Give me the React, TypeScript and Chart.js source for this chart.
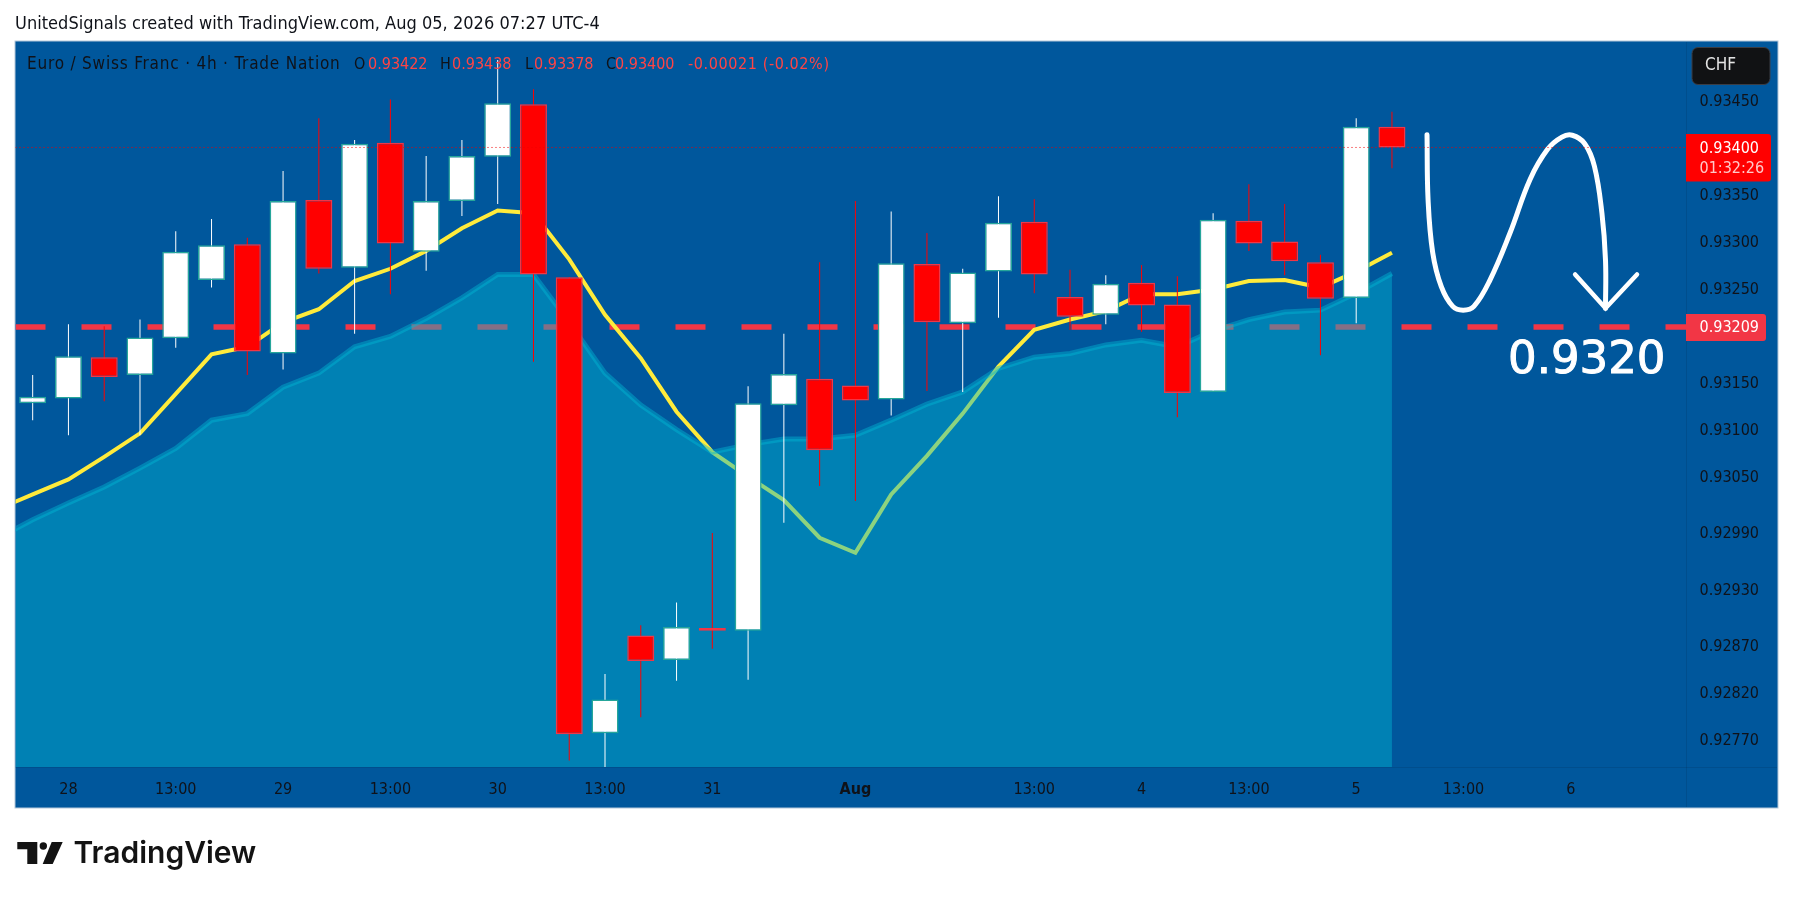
import React, { useEffect, useRef } from "react";
import { Chart, registerables } from "chart.js";

Chart.register(...registerables);

const opens = [0.93128,0.93133,0.93177,0.93158,0.93197,0.93259,0.93297,0.93181,0.93344,0.93272,0.93405,0.93289,0.93343,0.93390,0.93446,0.93262,0.92777,0.92881,0.92855,0.92889,0.92886,0.93126,0.93154,0.93147,0.93132,0.93276,0.93213,0.93268,0.93321,0.93241,0.93222,0.93256,0.93233,0.93140,0.93322,0.93300,0.93278,0.93240,0.93422];
const highs = [0.93158,0.93212,0.93210,0.93217,0.93311,0.93324,0.93304,0.93375,0.93431,0.93408,0.93451,0.93391,0.93408,0.93493,0.93462,0.93262,0.92840,0.92892,0.92916,0.92990,0.93146,0.93202,0.93278,0.93343,0.93332,0.93309,0.93271,0.93348,0.93345,0.93270,0.93264,0.93275,0.93263,0.93330,0.93361,0.93340,0.93286,0.93431,0.93438];
const lows = [0.93110,0.93094,0.93130,0.93094,0.93187,0.93251,0.93158,0.93164,0.93266,0.93202,0.93244,0.93269,0.93327,0.93340,0.93172,0.92748,0.92740,0.92794,0.92833,0.92867,0.92834,0.93001,0.93040,0.93024,0.93115,0.93141,0.93140,0.93219,0.93245,0.93206,0.93212,0.93204,0.93113,0.93140,0.93290,0.93264,0.93179,0.93213,0.93378];
const closes = [0.93135,0.93178,0.93156,0.93198,0.93289,0.93296,0.93183,0.93343,0.93271,0.93404,0.93298,0.93343,0.93391,0.93447,0.93265,0.92776,0.92813,0.92854,0.92890,0.92886,0.93128,0.93159,0.93078,0.93131,0.93277,0.93214,0.93267,0.93320,0.93265,0.93220,0.93255,0.93232,0.93139,0.93323,0.93298,0.93279,0.93239,0.93422,0.93400];

// First value sits one bar before the first candle (off the left edge).
const emaFast = [0.93015,0.93031,0.93047,0.93071,0.93096,0.93138,0.93180,0.93188,0.93214,0.93228,0.93258,0.93271,0.93290,0.93314,0.93333,0.93330,0.93281,0.93222,0.93176,0.93119,0.93076,0.93050,0.93025,0.92985,0.92969,0.93031,0.93072,0.93117,0.93167,0.93206,0.93217,0.93226,0.93244,0.93244,0.93249,0.93258,0.93259,0.93251,0.93268,0.93288];
const emaSlow = [0.92984,0.93004,0.93022,0.93039,0.93059,0.93080,0.93110,0.93117,0.93145,0.93160,0.93188,0.93199,0.93218,0.93240,0.93265,0.93265,0.93214,0.93160,0.93126,0.93100,0.93076,0.93084,0.93090,0.93090,0.93094,0.93110,0.93127,0.93140,0.93165,0.93177,0.93181,0.93190,0.93195,0.93188,0.93205,0.93217,0.93225,0.93227,0.93245,0.93266];

const priceTicks = [0.9345,0.934,0.9335,0.933,0.9325,0.932,0.9315,0.931,0.9305,0.9299,0.9293,0.9287,0.9282,0.9277];
const timeTickBars = [1,4,7,10,13,16,19,23,28,31,34,37,40,43];
const timeTickLabels = ["28","13:00","29","13:00","30","13:00","31","Aug","13:00","4","13:00","5","13:00","6"];

const levelPrice = 0.93209;
const lastPrice = 0.934;

const sketchBars = [38.98,39.01,39.14,39.38,39.70,39.99,40.29,40.74,41.30,41.86,42.35,42.75,43.04,43.39,43.66,43.87,43.97,43.97];
const sketchPrices = [0.934135,0.93344,0.93288,0.93252,0.93231,0.93227,0.93231,0.93259,0.93309,0.93366,0.93398,0.93411,0.93413,0.93404,0.93380,0.93330,0.93280,0.93229];
const headBars = [43.12,43.97,44.85];
const headPrices = [0.93265,0.93229,0.93265];

const xMin = -0.48;
const xMax = 46.22;
const yMin = 0.927412;
const yMax = 0.935132;

const FONT = '"DejaVu Sans Condensed", "DejaVu Sans"';
const INK = "#0f1219";
const BLUE = "#00579c";
const RED = "#ff0000";
const BAR_RED_EDGE = "#f23645";
const BAR_WHITE_EDGE = "#26a69a";
const VALUE_RED = "#ff4444";

const isUp = (i: number) => closes[i] >= opens[i];

function roundRect(c: CanvasRenderingContext2D, x: number, y: number, w: number, h: number, r: number | number[]) {
  c.beginPath();
  c.roundRect(x, y, w, h, r);
}

const frame = {
  id: "frame",
  beforeDraw(chart: any) {
    const c = chart.ctx as CanvasRenderingContext2D;
    const { left, right, bottom } = chart.chartArea;
    c.save();
    c.fillStyle = "#ffffff";
    c.fillRect(0, 0, chart.width, chart.height);
    c.fillStyle = BLUE;
    c.fillRect(15, 41, 1763, 767);
    c.strokeStyle = "#b4c8da";
    c.lineWidth = 1;
    c.strokeRect(15, 41, 1763, 767);
    c.strokeStyle = "rgba(0,40,80,0.18)";
    c.beginPath();
    c.moveTo(right + 0.5, 42);
    c.lineTo(right + 0.5, 807);
    c.moveTo(left, bottom + 0.5);
    c.lineTo(1777, bottom + 0.5);
    c.stroke();
    c.restore();
  },
  afterDraw(chart: any) {
    const c = chart.ctx as CanvasRenderingContext2D;
    const { right } = chart.chartArea;
    const y = chart.scales.y;
    c.save();
    c.textBaseline = "middle";
    c.textAlign = "left";

    c.fillStyle = INK;
    c.font = `18px ${FONT}`;
    (c as any).letterSpacing = "0.03px";
    c.fillText("UnitedSignals created with TradingView.com, Aug 05, 2026 07:27 UTC-4", 15, 24);

    c.font = `17px ${FONT}`;
    (c as any).letterSpacing = "0.8px";
    c.fillStyle = INK;
    c.fillText("Euro / Swiss Franc · 4h · Trade Nation", 27, 65);
    (c as any).letterSpacing = "0px";
    c.font = `16px ${FONT}`;
    const ohlc: [string, number, string, number][] = [
      ["O", 354, "0.93422", 368],
      ["H", 440, "0.93438", 452],
      ["L", 525, "0.93378", 534],
      ["C", 606, "0.93400", 615],
    ];
    ohlc.forEach(([k, kx, v, vx]) => {
      c.fillStyle = INK;
      c.fillText(k, kx, 65);
      c.fillStyle = VALUE_RED;
      c.fillText(v, vx, 65);
    });
    c.fillStyle = VALUE_RED;
    (c as any).letterSpacing = "0.6px";
    c.fillText("-0.00021 (-0.02%)", 688, 65);
    (c as any).letterSpacing = "0px";

    // CHF currency chip
    c.fillStyle = "#111214";
    c.strokeStyle = "#3a3d45";
    roundRect(c, 1692, 47.5, 78, 37, 6);
    c.fill();
    c.stroke();
    c.fillStyle = "#e4e4e4";
    c.font = `17px ${FONT}`;
    c.fillText("CHF", 1705, 66);

    // Last price label
    c.font = `16px ${FONT}`;
    const lastY = y.getPixelForValue(lastPrice);
    c.fillStyle = RED;
    roundRect(c, right, lastY - 13.5, 85, 47.5, [0, 3, 3, 0]);
    c.fill();
    c.fillStyle = "#ffffff";
    c.fillText("0.93400", 1699.5, lastY + 1);
    c.fillStyle = "#ffc9c9";
    c.fillText("01:32:26", 1699.5, lastY + 21);

    // Level label
    const levelY = y.getPixelForValue(levelPrice);
    c.fillStyle = BAR_RED_EDGE;
    roundRect(c, right, levelY - 13, 80, 27, [0, 3, 3, 0]);
    c.fill();
    c.fillStyle = "#ffffff";
    c.fillText("0.93209", 1699.5, levelY + 0.5);

    // Hand-written target
    c.font = `45px "DejaVu Sans"`;
    c.fillStyle = "#ffffff";
    c.strokeStyle = "#ffffff";
    c.lineWidth = 1;
    c.fillText("0.9320", 1508, 361);
    c.strokeText("0.9320", 1508, 361);

    // TradingView mark
    c.fillStyle = "#131313";
    c.beginPath();
    c.moveTo(17.3, 842);
    c.lineTo(37.3, 842);
    c.lineTo(37.3, 864);
    c.lineTo(27.3, 864);
    c.lineTo(27.3, 849.3);
    c.lineTo(17.3, 849.3);
    c.closePath();
    c.fill();
    c.beginPath();
    c.arc(43.3, 846, 3.7, 0, Math.PI * 2);
    c.fill();
    c.beginPath();
    c.moveTo(51.7, 842);
    c.lineTo(62.7, 842);
    c.lineTo(52.7, 864);
    c.lineTo(42.7, 864);
    c.closePath();
    c.fill();
    c.font = `600 30px Inter`;
    c.fillText("TradingView", 73.5, 854);
    c.restore();
  },
};

export default function App() {
  const ref = useRef<HTMLCanvasElement>(null);

  useEffect(() => {
    document.body.style.margin = "0";
    const bars = opens.map((_, i) => i);
    const wickColors = bars.map((i) => (isUp(i) ? "#ffffff" : RED));
    const bodyColors = bars.map((i) => (isUp(i) ? "#ffffff" : RED));
    const edgeColors = bars.map((i) => (isUp(i) ? BAR_WHITE_EDGE : BAR_RED_EDGE));
    const emaBars = emaFast.map((_, i) => i - 1);
    const hLine = (price: number) => [
      { x: xMin, y: price },
      { x: xMax, y: price },
    ];

    const chart = new Chart(ref.current as HTMLCanvasElement, {
      type: "bar",
      data: {
        datasets: [
          {
            type: "line",
            label: "Last price",
            data: hLine(lastPrice),
            borderColor: "#f00000",
            borderWidth: 1,
            borderDash: [1, 3],
            pointRadius: 0,
            order: 0,
          },
          {
            type: "line",
            label: "Sketch head",
            data: headBars.map((x, i) => ({ x, y: headPrices[i] })),
            borderColor: "#ffffff",
            borderWidth: 4.5,
            borderCapStyle: "round",
            pointRadius: 0,
            order: 1,
          },
          {
            type: "line",
            label: "Sketch",
            data: sketchBars.map((x, i) => ({ x, y: sketchPrices[i] })),
            borderColor: "#ffffff",
            borderWidth: 5,
            borderCapStyle: "round",
            tension: 0.4,
            pointRadius: 0,
            order: 1,
          },
          {
            type: "bar",
            label: "Body",
            data: bars.map((i) => ({ x: i, y: [opens[i], closes[i]] })),
            backgroundColor: bodyColors,
            borderColor: edgeColors,
            borderWidth: 1.5,
            borderSkipped: false,
            barThickness: 27,
            grouped: false,
            inflateAmount: 0,
            order: 2,
          },
          {
            type: "bar",
            label: "Wick",
            data: bars.map((i) => ({ x: i, y: [lows[i], highs[i]] })),
            backgroundColor: wickColors,
            borderWidth: 0,
            barThickness: 1,
            grouped: false,
            inflateAmount: 0,
            order: 3,
          },
          {
            type: "line",
            label: "Slow EMA",
            data: emaBars.map((x, i) => ({ x, y: emaSlow[i] })),
            borderColor: "rgba(0,182,211,0.45)",
            backgroundColor: "rgba(0,182,211,0.45)",
            borderWidth: 5,
            fill: "start",
            tension: 0,
            pointRadius: 0,
            order: 4,
          },
          {
            type: "line",
            label: "Fast EMA",
            data: emaBars.map((x, i) => ({ x, y: emaFast[i] })),
            borderColor: "#ffeb3b",
            borderWidth: 4,
            tension: 0,
            pointRadius: 0,
            order: 5,
          },
          {
            type: "line",
            label: "Level",
            data: hLine(levelPrice),
            borderColor: BAR_RED_EDGE,
            borderWidth: 5.5,
            borderDash: [30, 36],
            pointRadius: 0,
            order: 6,
          },
        ] as any,
      },
      options: {
        animation: false,
        responsive: false,
        devicePixelRatio: 1,
        layout: { padding: { left: 15.5, top: 41, right: 15, bottom: 91 } },
        plugins: { legend: { display: false }, tooltip: { enabled: false }, title: { display: false } },
        scales: {
          x: {
            type: "linear",
            offset: false,
            min: xMin,
            max: xMax,
            grid: { display: false, drawTicks: false, offset: false },
            border: { display: false },
            afterBuildTicks: (axis: any) => {
              axis.ticks = timeTickBars.map((value) => ({ value }));
            },
            afterFit: (axis: any) => {
              axis.height = 41;
            },
            ticks: {
              autoSkip: false,
              maxRotation: 0,
              padding: 13,
              color: INK,
              font: (ctx: any) => ({
                family: FONT,
                size: 16,
                weight: ctx.tick && ctx.tick.value === 23 ? "bold" : "normal",
              }),
              callback: (value: any) => timeTickLabels[timeTickBars.indexOf(Number(value))] ?? "",
            },
          },
          y: {
            type: "linear",
            position: "right",
            min: yMin,
            max: yMax,
            grid: { display: false, drawTicks: false },
            border: { display: false },
            afterBuildTicks: (axis: any) => {
              axis.ticks = priceTicks.map((value) => ({ value }));
            },
            afterFit: (axis: any) => {
              axis.width = 92;
            },
            ticks: {
              autoSkip: false,
              padding: 13.5,
              labelOffset: 1,
              color: INK,
              font: { family: FONT, size: 16 },
              callback: (value: any) => Number(value).toFixed(5),
            },
          },
        },
      } as any,
      plugins: [frame],
    });
    return () => chart.destroy();
  }, []);

  return <canvas ref={ref} width={1793} height={899} style={{ display: "block" }} />;
}
